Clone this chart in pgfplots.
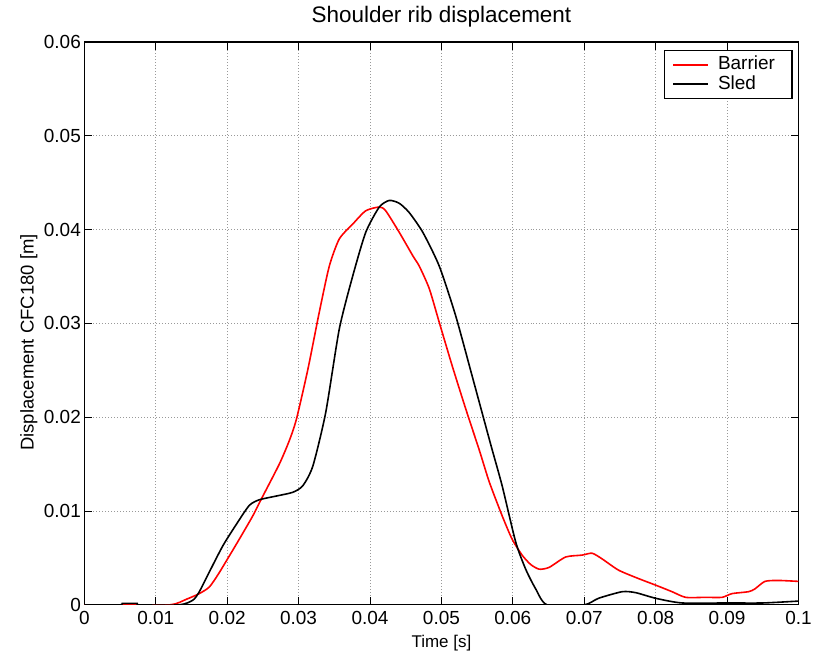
\documentclass[border=0pt]{standalone}
\usepackage{fontspec}
\setmainfont{Liberation Sans}
\usepackage{pgfplots}
\pgfplotsset{compat=1.18}

\begin{document}
\begin{tikzpicture}
\begin{axis}[
  scale only axis,
  width=715.5pt, height=564pt,
  xmin=0, xmax=0.1, ymin=0, ymax=0.06,
  xtick={0,0.01,0.02,0.03,0.04,0.05,0.06,0.07,0.08,0.09,0.1},
  xticklabels={0,0.01,0.02,0.03,0.04,0.05,0.06,0.07,0.08,0.09,0.1},
  ytick={0,0.01,0.02,0.03,0.04,0.05,0.06},
  yticklabels={0,0.01,0.02,0.03,0.04,0.05,0.06},
  scaled ticks=false,
  /pgf/number format/assume math mode=true,
  tick align=inside,
  major tick length=8pt,
  tick style={black, line width=1pt},
  axis line style={black, line width=1.3pt},
  grid=major,
  grid style={gray!80, line width=0.8pt, dash pattern=on 1pt off 2pt},
  ticklabel style={font=\fontsize{19}{22}\selectfont},
  xticklabel style={yshift=-3pt},
  title={Shoulder rib displacement},
  title style={font=\fontsize{22.5}{26}\selectfont, at={(axis description cs:0.5,1)}, anchor=base, yshift=13.7pt},
  xlabel={Time [s]},
  xlabel style={font=\fontsize{17}{20}\selectfont, at={(axis description cs:0.5,0)}, anchor=base, yshift=-43pt},
  ylabel={Displacement CFC180 [m]},
  ylabel style={font=\fontsize{18.5}{21}\selectfont, at={(axis description cs:0,0.466)}, anchor=center, yshift=55.5pt},
  legend style={at={(axis description cs:1,1)}, anchor=north east, xshift=-6pt, yshift=-8pt,
    draw=black, line width=1.2pt, inner xsep=8pt, inner ysep=4.5pt,
    font=\fontsize{19}{22}\selectfont,
    nodes={inner xsep=9pt, inner ysep=0.75pt, text height=14pt, text depth=4pt}},
  legend cell align=left,
  legend image code/.code={\draw[#1, line width=1.6pt] (0pt,0pt) -- (35pt,0pt);},
]
% Barrier test
\addplot[red, line width=1.6pt, smooth, tension=0.4] coordinates {
  (0,0) (0.005,0) (0.012,0) (0.0143,0.0006) (0.0161,0.0012) (0.0175,0.0019)
  (0.0187,0.0032) (0.0199,0.0047) (0.0217,0.0070) (0.0236,0.0095) (0.0248,0.0113)
  (0.0273,0.0150) (0.0287,0.0175) (0.0297,0.0198) (0.0313,0.0251) (0.0329,0.0312)
  (0.0343,0.0361) (0.0357,0.0390) (0.0376,0.0406) (0.0394,0.0420) (0.0413,0.0424)
  (0.0422,0.0420) (0.0441,0.0397) (0.0460,0.0372) (0.0469,0.0361) (0.0483,0.0337)
  (0.0497,0.0301) (0.0515,0.0255) (0.0534,0.0209) (0.0553,0.0165) (0.0567,0.0131)
  (0.0585,0.0095) (0.0599,0.0070) (0.0613,0.0053) (0.0625,0.0043) (0.0637,0.0038)
  (0.0651,0.0040) (0.0674,0.0051) (0.0697,0.0053) (0.0711,0.0055) (0.0725,0.0049)
  (0.0748,0.0037) (0.0776,0.0028) (0.0800,0.0021) (0.0823,0.0014) (0.0842,0.0008)
  (0.0870,0.0008) (0.0893,0.0008) (0.0907,0.0012) (0.0930,0.0014) (0.0939,0.0017)
  (0.0953,0.0025) (0.0972,0.0026) (0.1000,0.0025)
};
\addlegendentry{Barrier}
% Sled test
\addplot[black, line width=1.6pt, smooth, tension=0.4] coordinates {
  (0,0) (0.0050,0) (0.0053,0.00015) (0.0074,0.00015) (0.0077,0) (0.0133,0)
  (0.0152,0.0005) (0.0161,0.0014) (0.0175,0.0035) (0.0194,0.0063) (0.0213,0.0086)
  (0.0231,0.0106) (0.0245,0.0112) (0.0269,0.0116) (0.0292,0.0120) (0.0306,0.0127)
  (0.0320,0.0148) (0.0338,0.0205) (0.0357,0.0294) (0.0376,0.0351) (0.0394,0.0397)
  (0.0413,0.0424) (0.0427,0.0431) (0.0441,0.0428) (0.0455,0.0418) (0.0474,0.0397)
  (0.0497,0.0361) (0.0520,0.0308) (0.0543,0.0244) (0.0569,0.0171) (0.0585,0.0127)
  (0.0604,0.0067) (0.0618,0.0038) (0.0632,0.0017) (0.0648,0) (0.0700,0)
  (0.0720,0.0007) (0.0753,0.0014) (0.0772,0.0013) (0.0800,0.0007) (0.0837,0.0002)
  (0.0900,0.0002) (0.0950,0.0002) (0.1000,0.0004)
};
\addlegendentry{Sled}
\end{axis}
\path (current axis.south west) ++(-84.5pt,-48pt) coordinate (bbsw);
\path (current axis.north east) ++(15pt,42pt) coordinate (bbne);
\path (bbsw) rectangle (bbne);
\end{tikzpicture}
\end{document}
